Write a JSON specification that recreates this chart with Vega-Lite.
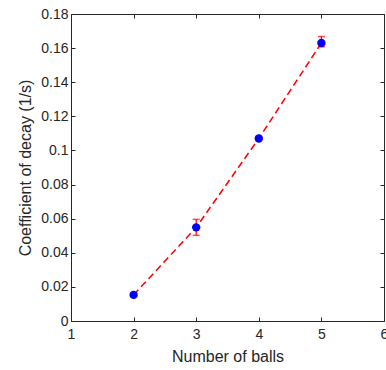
{
  "$schema": "https://vega.github.io/schema/vega-lite/v6.json",
  "autosize": "none",
  "padding": {"left": 71, "top": 14, "right": 2, "bottom": 49},
  "width": 313,
  "height": 307,
  "background": "white",
  "config": {
    "view": {"stroke": null},
    "axis": {
      "domainColor": "#262626",
      "tickColor": "#262626",
      "labelColor": "#262626",
      "titleColor": "#262626",
      "labelFont": "Liberation Sans",
      "titleFont": "Liberation Sans",
      "labelFontSize": 14,
      "titleFontSize": 16,
      "titleFontWeight": "normal",
      "grid": false,
      "tickSize": -4,
      "domainWidth": 1,
      "tickWidth": 1,
      "labelFlush": false,
      "labelOverlap": false
    }
  },
  "data": {
    "values": [
      {"n": 2, "k": 0.0153, "lo": 0.0143, "hi": 0.0163},
      {"n": 3, "k": 0.0549, "lo": 0.0502, "hi": 0.0596},
      {"n": 4, "k": 0.107, "lo": 0.106, "hi": 0.108},
      {"n": 5, "k": 0.163, "lo": 0.1608, "hi": 0.1668}
    ]
  },
  "encoding": {
    "x": {"field": "n", "type": "quantitative", "axis": null, "scale": {"domain": [1, 6], "nice": false, "zero": false}},
    "y": {"field": "k", "type": "quantitative", "axis": null, "scale": {"domain": [0, 0.18], "nice": false}}
  },
  "layer": [
    {
      "mark": {"type": "rule", "color": "#ff0000", "strokeWidth": 1.2},
      "encoding": {
        "y": {"field": "lo", "type": "quantitative", "axis": null},
        "y2": {"field": "hi"}
      }
    },
    {
      "mark": {"type": "tick", "color": "#ff0000", "orient": "horizontal", "size": 7, "thickness": 1.5},
      "encoding": {"y": {"field": "hi", "type": "quantitative", "axis": null}}
    },
    {
      "mark": {"type": "tick", "color": "#ff0000", "orient": "horizontal", "size": 7, "thickness": 1.5},
      "encoding": {"y": {"field": "lo", "type": "quantitative", "axis": null}}
    },
    {
      "mark": {"type": "line", "color": "#ff0000", "strokeWidth": 1.5, "strokeDash": [7, 4]},
      "encoding": {}
    },
    {
      "mark": {"type": "point", "filled": true, "color": "#0000ff", "opacity": 1, "size": 70},
      "encoding": {
        "x": {"field": "n", "type": "quantitative", "axis": {"orient": "bottom", "values": [1, 2, 3, 4, 5, 6], "format": "d", "title": "Number of balls", "labelPadding": 10, "titlePadding": 7}},
        "y": {"field": "k", "type": "quantitative", "axis": {"orient": "left", "values": [0, 0.02, 0.04, 0.06, 0.08, 0.1, 0.12, 0.14, 0.16, 0.18], "format": "~g", "title": "Coefficient of decay (1/s)", "labelPadding": 7, "titlePadding": 7}}
      }
    },
    {
      "mark": {"type": "point", "opacity": 0},
      "encoding": {
        "x": {"field": "n", "type": "quantitative", "axis": {"orient": "top", "values": [1, 2, 3, 4, 5, 6], "labels": false, "title": null}},
        "y": {"field": "k", "type": "quantitative", "axis": {"orient": "right", "values": [0, 0.02, 0.04, 0.06, 0.08, 0.1, 0.12, 0.14, 0.16, 0.18], "labels": false, "title": null}}
      }
    }
  ]
}
